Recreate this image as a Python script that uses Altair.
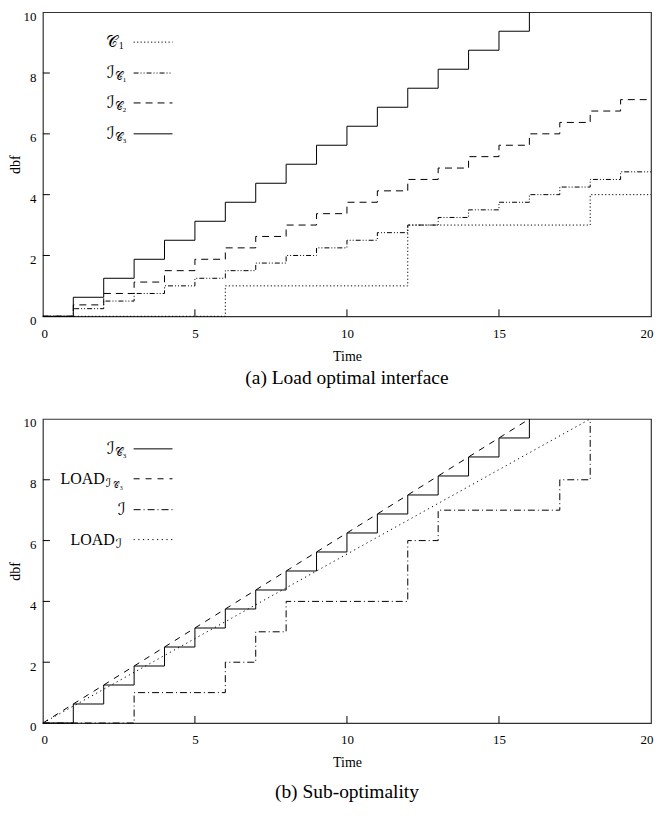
import altair as alt
import pandas as pd

# ---------------- data ----------------
x_ticks = [0, 5, 10, 15, 20]
y_ticks = [0, 2, 4, 6, 8, 10]

# panel (a)
c1_t = [0, 6, 12, 18, 20]
c1_v = [0, 1, 3, 4, 4]
ic1_t = [0, 1, 2, 3, 4, 5, 6, 7, 8, 9, 10, 11, 12, 13, 14, 15, 16, 17, 18, 19, 20]
ic1_v = [0, 0.25, 0.5, 0.75, 1.0, 1.25, 1.5, 1.75, 2.0, 2.25, 2.5, 2.75, 3.0, 3.25,
         3.5, 3.75, 4.0, 4.25, 4.5, 4.75, 4.75]
ic2_t = [0, 1, 2, 3, 4, 5, 6, 7, 8, 9, 10, 11, 12, 13, 14, 15, 16, 17, 18, 19, 20]
ic2_v = [0, 0.375, 0.75, 1.125, 1.5, 1.875, 2.25, 2.625, 3.0, 3.375, 3.75, 4.125, 4.5,
         4.875, 5.25, 5.625, 6.0, 6.375, 6.75, 7.125, 7.125]
ic3_t = [0, 1, 2, 3, 4, 5, 6, 7, 8, 9, 10, 11, 12, 13, 14, 15, 16]
ic3_v = [0, 0.625, 1.25, 1.875, 2.5, 3.125, 3.75, 4.375, 5.0, 5.625, 6.25, 6.875, 7.5,
         8.125, 8.75, 9.375, 10.0]

# panel (b)
load_ic3_t = [0, 16]
load_ic3_v = [0, 10]
i_t = [0, 3, 6, 7, 8, 12, 13, 17, 18]
i_v = [0, 1, 2, 3, 4, 6, 7, 8, 10]
load_i_t = [0, 18]
load_i_v = [0, 10]

# ---------------- styling ----------------
W, H = 610, 305
SERIF = "Liberation Serif"
MATH = "Liberation Serif, DejaVu Serif, DejaVu Sans"

xscale = alt.Scale(domain=[0, 20], nice=False, zero=False)
yscale = alt.Scale(domain=[0, 10], nice=False, zero=False)
xaxis = alt.Axis(values=x_ticks, title="Time", labelFont=SERIF, labelFontSize=13,
                 titleFont=SERIF, titleFontSize=14, titleFontWeight="normal",
                 labelPadding=11, titlePadding=9, ticks=False, domain=False, grid=False,
                 labelColor="black", titleColor="black", labelFlush=True,
                 labelFlushOffset=2)
yaxis = alt.Axis(values=y_ticks, title="dbf", labelFont=SERIF, labelFontSize=13,
                 titleFont=SERIF, titleFontSize=14, titleFontWeight="normal",
                 labelPadding=7, labelOffset=4, ticks=False, domain=False, grid=False,
                 titlePadding=0, labelColor="black", titleColor="black",
                 labelFlush=False)


def series(ts, vs, dash=None, interp="step-after"):
    df = pd.DataFrame({"t": ts, "v": vs})
    kw = dict(interpolate=interp, color="black", strokeWidth=1)
    if dash is not None:
        kw["strokeDash"] = dash
    return alt.Chart(df).mark_line(**kw).encode(
        x=alt.X("t:Q", scale=xscale, axis=xaxis),
        y=alt.Y("v:Q", scale=yscale, axis=yaxis),
        order="t:Q",
    )


def tick_layers():
    xt = alt.Chart(pd.DataFrame({"t": x_ticks[1:-1]})).mark_rule(
        color="black", strokeWidth=1).encode(
        x=alt.X("t:Q", scale=xscale, axis=xaxis), y=alt.value(H), y2=alt.value(H - 7))
    yt = alt.Chart(pd.DataFrame({"v": y_ticks[1:-1]})).mark_rule(
        color="black", strokeWidth=1).encode(
        y=alt.Y("v:Q", scale=yscale, axis=yaxis), x=alt.value(0), x2=alt.value(7))
    return [xt, yt]


def legend_entry(row_y, pieces, dash=None):
    layers = []
    for (px, txt, size, dy, al) in pieces:
        layers.append(
            alt.Chart(pd.DataFrame({"s": [txt]})).mark_text(
                font=MATH, fontSize=size, align=al, baseline="middle",
                color="black").encode(
                x=alt.value(px), y=alt.value(row_y + dy), text="s:N"))
    kw = dict(color="black", strokeWidth=1)
    if dash is not None:
        kw["strokeDash"] = dash
    layers.append(
        alt.Chart(pd.DataFrame({"s": [pieces[0][1]]})).mark_rule(**kw).encode(
            x=alt.value(91), x2=alt.value(130), y=alt.value(row_y)))
    return layers


DOT = [1.2, 2.3]
DDOT = [5, 2, 1, 2, 1, 2]
DASH = [7, 5]
DASH_B = [6, 6]
DASHDOT = [7, 3, 1, 3]
DOT_B = [1.2, 3.5]

SC = "\U0001D49E"  # script C
SI = "\u2110"      # script I


def ic_label(digit):
    return [(72, SI, 17, 0, "right"), (72, SC, 11, 4, "left"), (80, digit, 7, 7, "left")]


# ---------------- panel (a) ----------------
layers_a = [
    series(c1_t, c1_v, DOT),
    series(ic1_t, ic1_v, DDOT),
    series(ic2_t, ic2_v, DASH),
    series(ic3_t, ic3_v),
] + tick_layers()
layers_a += legend_entry(30, [(75, SC, 16, 0, "right"), (76, "1", 10, 4, "left")], DOT)
layers_a += legend_entry(61, ic_label("1"), DDOT)
layers_a += legend_entry(91, ic_label("2"), DASH)
layers_a += legend_entry(122, ic_label("3"))

panel_a = alt.layer(*layers_a).properties(
    width=W, height=H,
    title=alt.TitleParams(text="(a)  Load optimal interface", orient="bottom",
                          font=SERIF, fontSize=19.5, fontWeight="normal", offset=6,
                          anchor="middle", color="black"))

# ---------------- panel (b) ----------------
layers_b = [
    series(ic3_t, ic3_v),
    series(load_ic3_t, load_ic3_v, DASH_B, "linear"),
    series(i_t, i_v, DASHDOT),
    series(load_i_t, load_i_v, DOT_B, "linear"),
] + tick_layers()
layers_b += legend_entry(30, ic_label("3"))
layers_b += legend_entry(60, [(62, "LOAD", 16, 0, "right"), (63, SI, 12, 4, "left"),
                              (70, SC, 8, 7, "left"), (77, "3", 6, 9, "left")], DASH_B)
layers_b += legend_entry(91, [(83, SI, 17, 0, "right")], DASHDOT)
layers_b += legend_entry(121, [(72, "LOAD", 16, 0, "right"), (73, SI, 13, 4, "left")], DOT_B)

panel_b = alt.layer(*layers_b).properties(
    width=W, height=H,
    title=alt.TitleParams(text="(b)  Sub-optimality", orient="bottom",
                          font=SERIF, fontSize=19.5, fontWeight="normal", offset=13,
                          anchor="middle", color="black"))

chart = alt.vconcat(panel_a, panel_b, spacing=27).properties(
    padding={"left": 0, "top": 0, "right": 0, "bottom": 0}
).configure_view(stroke="#333333", strokeWidth=1.2).configure_concat(spacing=27)

chart.save("out.html", embed_options={"renderer": "svg", "actions": False})
